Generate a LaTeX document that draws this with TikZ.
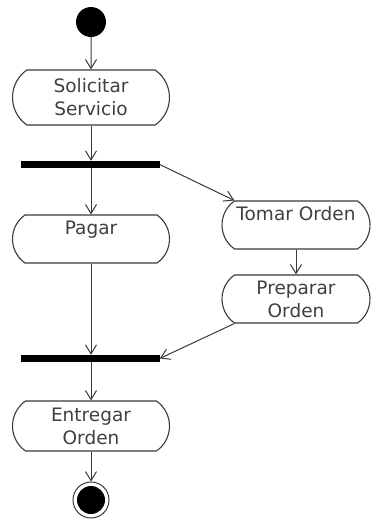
\documentclass[tikz,border=0pt]{standalone}
\usepackage{fontspec}
\setmainfont{DejaVu Sans}
\usetikzlibrary{shapes.misc,arrows.meta}
\definecolor{ink}{HTML}{3A3A3A}
\definecolor{txt}{HTML}{404040}
\begin{document}
\begin{tikzpicture}[x=1pt,y=-1pt,
  action/.style={rounded rectangle, rounded rectangle arc length=110,
    draw=ink, line width=1.1pt, inner sep=0pt, align=center,
    font=\fontsize{18.5}{23}\selectfont, text=txt},
  bar/.style={rectangle, fill=black, inner sep=0pt, minimum width=139pt, minimum height=7pt},
  flow/.style={draw=ink, line width=1pt, -{Straight Barb[length=9pt,width=11pt]}}]
\useasboundingbox[fill=white] (0,0) rectangle (372,519);

% initial and final states
\node[circle, fill=black, inner sep=0pt, minimum size=30pt] (start) at (91,22) {};
\node[circle, draw=ink, line width=1pt, inner sep=0pt, minimum size=36pt,
  path picture={\fill[black] (path picture bounding box.center) circle (14pt);}] (stop) at (91,500) {};

% actions
\node[action, minimum width=157pt, minimum height=55pt] (solicitar) at (91,97.5) {Solicitar\\Servicio};
\node[action, minimum width=157pt, minimum height=48pt] (pagar) at (91,239) {Pagar\\~};
\node[action, minimum width=148pt, minimum height=48pt] (tomar) at (296,225) {Tomar Orden\\~};
\node[action, minimum width=148pt, minimum height=48pt] (preparar) at (296,299) {Preparar\\Orden};
\node[action, minimum width=157pt, minimum height=50pt] (entregar) at (91,426) {Entregar\\Orden};

% fork and join bars
\node[bar] (fork) at (90,164.5) {};
\node[bar] (join) at (90,358.5) {};

% control flow
\draw[flow] (start) -- (solicitar);
\draw[flow] (solicitar.south) -- (fork.north -| solicitar.south);
\draw[flow] (fork.south -| pagar.north) -- (pagar.north);
\draw[flow] (fork.east) -- (tomar.north west);
\draw[flow] (tomar.south) -- (preparar.north);
\draw[flow] (pagar.south) -- (join.north -| pagar.south);
\draw[flow] (preparar.south west) -- (join.east);
\draw[flow] (join.south -| entregar.north) -- (entregar.north);
\draw[flow] (entregar.south) -- (stop);
\end{tikzpicture}
\end{document}
